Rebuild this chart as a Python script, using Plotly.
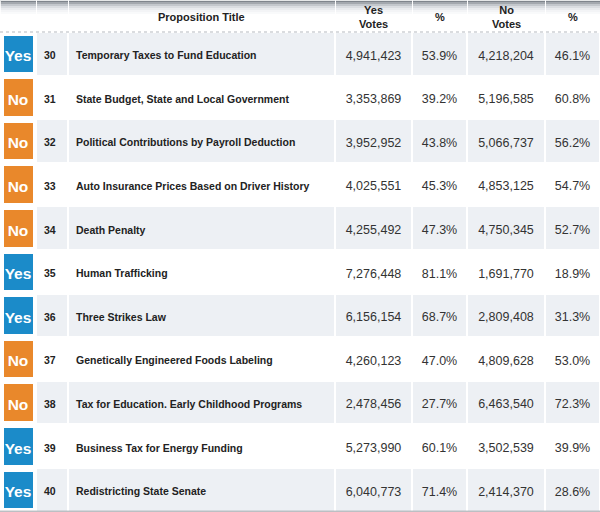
import plotly.graph_objects as go

#%% data
outcome = ['Yes', 'No', 'No', 'No', 'No', 'Yes', 'Yes', 'No', 'No', 'Yes', 'Yes']
prop_no = [30, 31, 32, 33, 34, 35, 36, 37, 38, 39, 40]
titles = ['Temporary Taxes to Fund Education',
          'State Budget, State and Local Government',
          'Political Contributions by Payroll Deduction',
          'Auto Insurance Prices Based on Driver History',
          'Death Penalty',
          'Human Trafficking',
          'Three Strikes Law',
          'Genetically Engineered Foods Labeling',
          'Tax for Education. Early Childhood Programs',
          'Business Tax for Energy Funding',
          'Redistricting State Senate']
yes_votes = [4941423, 3353869, 3952952, 4025551, 4255492, 7276448, 6156154, 4260123, 2478456, 5273990, 6040773]
yes_pct = [53.9, 39.2, 43.8, 45.3, 47.3, 81.1, 68.7, 47.0, 27.7, 60.1, 71.4]
no_votes = [4218204, 5196585, 5066737, 4853125, 4750345, 1691770, 2809408, 4809628, 6463540, 3502539, 2414370]
no_pct = [46.1, 60.8, 56.2, 54.7, 52.7, 18.9, 31.3, 53.0, 72.3, 39.9, 28.6]
header_labels = ['', '', 'Proposition Title', 'Yes<br>Votes', '%', 'No<br>Votes', '%']
col_widths = [36, 32, 267, 77, 55, 78, 55]

#%% styling
BLUE = '#1b8bc9'
ORANGE = '#e9882b'
SHADE = '#edf0f4'
FONT = 'Liberation Sans, Arial'
W, H = 600, 512
HEAD = 32
n = len(titles)
row_fill = [SHADE if i % 2 == 0 else 'white' for i in range(n)]
badge_fill = [BLUE if o == 'Yes' else ORANGE for o in outcome]

# table text is top aligned, so push it down with a blank first line
def cell(txt, size, bold=False):
    if bold:
        txt = '<b>%s</b>' % txt
    return '&nbsp;<br><span style="font-size:%spx">%s</span>' % (size, txt)

cols = [[cell(o, 15.5, True) for o in outcome],
        [cell(p, 10.5, True) for p in prop_no],
        [cell(t, 10.5, True) for t in titles],
        [cell(f'{v:,}', 12.5) for v in yes_votes],
        [cell(f'{p:.1f}%', 12.5) for p in yes_pct],
        [cell(f'{v:,}', 12.5) for v in no_votes],
        [cell(f'{p:.1f}%', 12.5) for p in no_pct]]

fig = go.Figure(go.Table(
    columnwidth=col_widths,
    domain=dict(x=[0, 1], y=[0, 1]),
    header=dict(values=[''] * 7,
                fill_color='rgba(0,0,0,0)',
                line=dict(color='rgba(255,255,255,0.8)', width=1),
                height=HEAD),
    cells=dict(values=cols,
               fill_color=[badge_fill] + [row_fill] * 6,
               line=dict(color='white', width=[7, 2, 2, 2, 2, 2, 2]),
               align=['center', 'left', 'left', 'center', 'center', 'center', 'center'],
               height=43.6,
               font=dict(family=FONT,
                         size=[9.4, 8.6, 8.6, 8.9, 8.9, 8.9, 8.9],
                         color=['white', '#222', '#222', '#333', '#333', '#333', '#333']))
))

# header gradient (decoration)
grad = ['#7f858c', '#a3a8ae', '#c3c7cc', '#dadde1', '#e9ebee', '#f3f4f6', '#f9fafb']
for i, c in enumerate(grad):
    fig.add_shape(type='rect', xref='paper', yref='paper', layer='below',
                  x0=0, x1=1, y0=1 - (i + 1) * 2 / H, y1=1 - i * 2 / H,
                  fillcolor=c, line_width=0)
hb = 1 - HEAD / H
fig.add_shape(type='line', xref='paper', yref='paper', x0=0, x1=1, y0=hb, y1=hb,
              line=dict(color='#b5b9bf', width=1, dash='dot'))
fig.add_shape(type='line', xref='paper', yref='paper', x0=0, x1=1, y0=0.8 / H, y1=0.8 / H,
              line=dict(color='#9ea3a9', width=1))

# header labels
total = sum(col_widths)
left = 0
for w, lab in zip(col_widths, header_labels):
    if lab:
        fig.add_annotation(x=(left + w / 2) / total, y=1 - (HEAD / 2 + 1) / H,
                           xref='paper', yref='paper', text='<b>%s</b>' % lab,
                           showarrow=False, xanchor='center', yanchor='middle',
                           font=dict(family=FONT, size=11, color='#222'))
    left += w

fig.update_layout(width=W, height=H, margin=dict(l=0, r=0, t=0, b=0),
                  paper_bgcolor='white', plot_bgcolor='white')
fig.write_html('out.html', config={'displayModeBar': False},
               post_script="document.body.style.margin='0';")
